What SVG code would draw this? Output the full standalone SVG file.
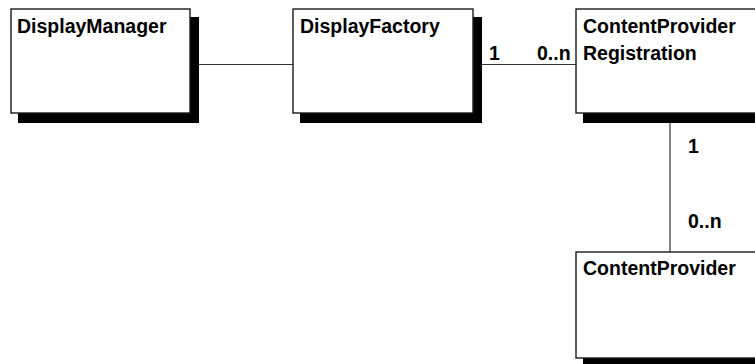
<svg xmlns="http://www.w3.org/2000/svg" width="755" height="364" viewBox="0 0 755 364">
<style>
.shadow{fill:#000}
.box{fill:#fff;stroke:#1a1a1a;stroke-width:1.4}
.t{font-family:"Liberation Sans",Arial,sans-serif;font-weight:bold;font-size:19.5px;fill:#000}
.c{stroke:#333;stroke-width:1.2;fill:none}
</style>
<rect width="755" height="364" fill="#fff"/>
<g id="connectors">
<line class="c" x1="199" y1="64.5" x2="293" y2="64.5"/>
<line class="c" x1="482" y1="64.5" x2="576" y2="64.5"/>
<line class="c" x1="670" y1="123" x2="670" y2="252"/>
<text class="t" x="489" y="59.5">1</text>
<text class="t" x="537" y="59.5">0..n</text>
<text class="t" x="688" y="153">1</text>
<text class="t" x="688" y="228">0..n</text>
</g>
<g id="DisplayManager">
<rect class="shadow" x="18" y="17" width="181" height="106"/>
<rect class="box" x="11" y="9" width="179" height="104"/>
<text class="t" x="17" y="32.5">DisplayManager</text>
</g>
<g id="DisplayFactory">
<rect class="shadow" x="300" y="17" width="182" height="106"/>
<rect class="box" x="293" y="9" width="180" height="104"/>
<text class="t" x="300" y="32.5">DisplayFactory</text>
</g>
<g id="ContentProviderRegistration">
<rect class="shadow" x="583" y="17" width="200" height="106"/>
<rect class="box" x="576" y="9" width="200" height="104"/>
<text class="t" x="583" y="32.5">ContentProvider</text>
<text class="t" x="583" y="60">Registration</text>
</g>
<g id="ContentProvider">
<rect class="shadow" x="583" y="260" width="200" height="110"/>
<rect class="box" x="576" y="252" width="200" height="106"/>
<text class="t" x="583" y="274.5">ContentProvider</text>
</g>
</svg>
